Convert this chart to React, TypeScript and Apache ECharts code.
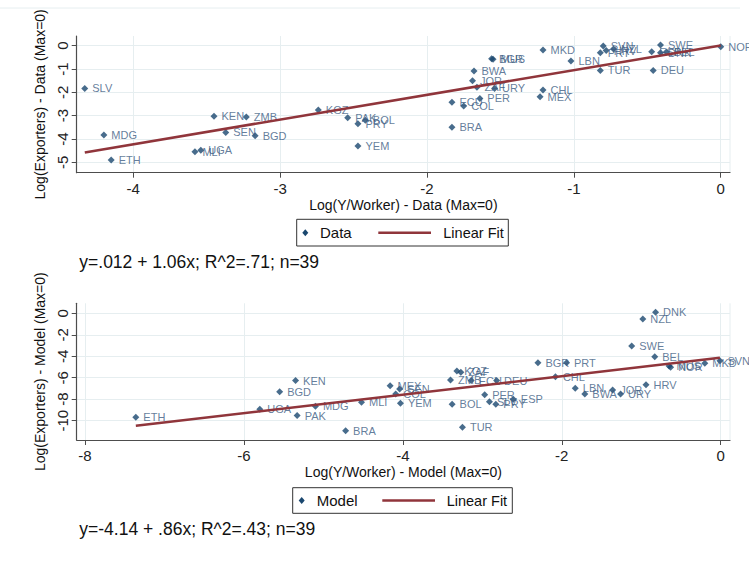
import React, { useEffect, useRef } from "react";
import * as echarts from "echarts";

// Country codes and log values, top panel (data)
const dataCodes = [
  "SLV", "MDG", "ETH", "KEN", "ZMB", "SEN", "BGD", "MLI", "UGA", "KGZ",
  "PAK", "PRY", "BOL", "YEM", "BRA", "ECU", "COL", "PER", "ZAF", "URY",
  "JOR", "BWA", "BGR", "MUS", "MKD", "LBN", "CHL", "MEX", "TUR", "SVN",
  "PRT", "HRV", "NZL", "SWE", "ESP", "DNK", "BEL", "DEU", "NOR",
];
const dataLogYW = [
  -4.33, -4.2, -4.15, -3.45, -3.23, -3.37, -3.17, -3.58, -3.54, -2.74,
  -2.54, -2.47, -2.42, -2.47, -1.83, -1.83, -1.75, -1.64, -1.66, -1.54,
  -1.69, -1.68, -1.56, -1.55, -1.21, -1.02, -1.21, -1.23, -0.82, -0.8,
  -0.82, -0.78, -0.73, -0.41, -0.47, -0.41, -0.37, -0.46, 0,
];
const dataLogExp = [
  -1.83, -3.83, -4.9, -3.02, -3.06, -3.72, -3.86, -4.55, -4.48, -2.76,
  -3.09, -3.35, -3.2, -4.3, -3.5, -2.42, -2.59, -2.26, -1.78, -1.83,
  -1.5, -1.09, -0.56, -0.58, -0.18, -0.66, -1.9, -2.19, -1.06, -0.01,
  -0.3, -0.21, -0.14, 0.03, -0.26, -0.3, -0.27, -1.06, -0.04,
];

// Bottom panel (model)
const modelCodes = [
  "ETH", "UGA", "BGD", "KEN", "PAK", "MDG", "BRA", "MLI", "MEX", "SEN",
  "COL", "YEM", "BOL", "TUR", "KGZ", "ZAF", "ZMB", "ECU", "DEU", "PER",
  "SLV", "PRY", "ESP", "BGR", "PRT", "CHL", "LBN", "BWA", "JOR", "URY",
  "HRV", "SWE", "NZL", "DNK", "BEL", "NOR", "MUS", "MKD", "SVN",
];
const modelLogYW = [
  -7.36, -5.8, -5.55, -5.35, -5.33, -5.1, -4.72, -4.52, -4.16, -4.04,
  -4.09, -4.03, -3.38, -3.25, -3.32, -3.27, -3.4, -3.14, -2.82, -2.97,
  -2.91, -2.83, -2.61, -2.3, -1.94, -2.08, -1.83, -1.71, -1.36, -1.26,
  -0.94, -1.12, -0.98, -0.82, -0.83, -0.63, -0.65, -0.2, -0.01,
];
const modelLogExp = [
  -9.68, -8.94, -7.3, -6.27, -9.53, -8.65, -10.93, -8.29, -6.74, -7.05,
  -7.51, -8.38, -8.47, -10.61, -5.37, -5.5, -6.21, -6.27, -6.27, -7.58,
  -8.23, -8.47, -8.01, -4.6, -4.6, -5.9, -6.98, -7.51, -7.14, -7.51,
  -6.65, -3.04, -0.53, 0.09, -4.04, -5.03, -4.9, -4.66, -4.41,
];

// Fitted lines as reported under each panel
const dataFit = { intercept: 0.012, slope: 1.06 };
const modelFit = { intercept: -4.14, slope: 0.86 };
const dataFitText = "y=.012 + 1.06x; R^2=.71; n=39";
const modelFitText = "y=-4.14 + .86x; R^2=.43; n=39";

// Tick values
const dataXTicks = [-4, -3, -2, -1, 0];
const dataYTicks = [-5, -4, -3, -2, -1, 0];
const modelXTicks = [-8, -6, -4, -2, 0];
const modelYTicks = [-10, -8, -6, -4, -2, 0];

const FONT = "Liberation Sans, Arial, sans-serif";
const NAVY = "#1a476f";
const LABEL = "#3b5b82";
const MAROON = "#90353b";
const AXIS = "#4d4d4d";
const GRID = "#e6eef0";

function points(codes: string[], xs: number[], ys: number[]) {
  return codes.map((c, i) => ({ name: c, value: [xs[i], ys[i]] }));
}

function fitLine(xs: number[], fit: { intercept: number; slope: number }) {
  const lo = Math.min(...xs);
  const hi = Math.max(...xs);
  return [
    [lo, fit.intercept + fit.slope * lo],
    [hi, fit.intercept + fit.slope * hi],
  ];
}

function xAxis(gridIndex: number, min: number, max: number, ticks: number[], name: string) {
  return {
    type: "value",
    gridIndex,
    min,
    max,
    name,
    nameLocation: "middle",
    nameGap: 25,
    nameTextStyle: { fontFamily: FONT, fontSize: 14, color: "#111" },
    axisLine: { show: true, onZero: false, lineStyle: { color: AXIS, width: 1.2 } },
    axisTick: { show: true, length: 5, customValues: ticks, lineStyle: { color: AXIS } },
    axisLabel: { customValues: ticks, fontFamily: FONT, fontSize: 15, color: "#222", margin: 8 },
    splitLine: { show: true, lineStyle: { color: GRID, width: 1 } },
  };
}

function yAxis(gridIndex: number, min: number, max: number, ticks: number[], name: string) {
  return {
    type: "value",
    gridIndex,
    min,
    max,
    name,
    nameLocation: "middle",
    nameRotate: 90,
    nameGap: 28,
    nameTextStyle: { fontFamily: FONT, fontSize: 14, color: "#111" },
    axisLine: { show: true, onZero: false, lineStyle: { color: AXIS, width: 1.2 } },
    axisTick: { show: true, length: 5, customValues: ticks, lineStyle: { color: AXIS } },
    axisLabel: { customValues: ticks, rotate: 90, fontFamily: FONT, fontSize: 15, color: "#222", margin: 7 },
    splitLine: { show: true, lineStyle: { color: GRID, width: 1 } },
  };
}

function scatter(name: string, idx: number, data: any[]) {
  return {
    name,
    type: "scatter",
    xAxisIndex: idx,
    yAxisIndex: idx,
    symbol: "diamond",
    symbolSize: 7,
    itemStyle: { color: NAVY },
    data,
    z: 3,
    label: {
      show: true,
      position: "right",
      distance: 4,
      formatter: (p: any) => p.name,
      fontFamily: FONT,
      fontSize: 11,
      color: LABEL,
    },
  };
}

function fitSeries(idx: number, data: number[][]) {
  return {
    name: "Linear Fit",
    type: "line",
    xAxisIndex: idx,
    yAxisIndex: idx,
    data,
    symbol: "none",
    lineStyle: { color: MAROON, width: 2.5 },
    z: 4,
  };
}

function legendBox(x0: number, y0: number, x1: number, y1: number, dot: number, txtX: number, lx0: number, lx1: number, fitX: number, label: string) {
  const cy = (y0 + y1) / 2;
  return [
    { type: "rect", shape: { x: x0, y: y0, width: x1 - x0, height: y1 - y0 }, style: { fill: "#fff", stroke: "#333", lineWidth: 1 } },
    { type: "polygon", shape: { points: [[dot, cy - 3.5], [dot + 3, cy], [dot, cy + 3.5], [dot - 3, cy]] }, style: { fill: NAVY } },
    { type: "text", x: txtX, y: cy, style: { text: label, fontFamily: FONT, fontSize: 15, fill: "#111", verticalAlign: "middle" } },
    { type: "line", shape: { x1: lx0, y1: cy, x2: lx1, y2: cy }, style: { stroke: MAROON, lineWidth: 2.5 } },
    { type: "text", x: fitX, y: cy, style: { text: "Linear Fit", fontFamily: FONT, fontSize: 14.5, fill: "#111", verticalAlign: "middle" } },
  ];
}

export default function App() {
  const ref = useRef<HTMLDivElement>(null);

  useEffect(() => {
    if (!ref.current) return;
    const chart = echarts.init(ref.current, null, { renderer: "svg" });
    chart.setOption({
      animation: false,
      backgroundColor: "#fff",
      grid: [
        { left: 76.7, top: 36, width: 653.3, height: 136.7 },
        { left: 76.7, top: 303.3, width: 653.3, height: 136.7 },
      ],
      xAxis: [
        xAxis(0, -4.385, 0.063, dataXTicks, "Log(Y/Worker) - Data (Max=0)"),
        xAxis(1, -8.104, 0.117, modelXTicks, "Log(Y/Worker) - Model (Max=0)"),
      ],
      yAxis: [
        yAxis(0, -5.446, 0.416, dataYTicks, "Log(Exporters) - Data (Max=0)"),
        yAxis(1, -11.8, 0.93, modelYTicks, "Log(Exporters) - Model (Max=0)"),
      ],
      series: [
        scatter("Data", 0, points(dataCodes, dataLogYW, dataLogExp)),
        fitSeries(0, fitLine(dataLogYW, dataFit)),
        scatter("Model", 1, points(modelCodes, modelLogYW, modelLogExp)),
        fitSeries(1, fitLine(modelLogYW, modelFit)),
      ],
      graphic: [
        { type: "line", shape: { x1: 0, y1: 8, x2: 740, y2: 8 }, style: { stroke: GRID, lineWidth: 1 } },
        { type: "line", shape: { x1: 730, y1: 36, x2: 730, y2: 172.7 }, style: { stroke: GRID, lineWidth: 1 } },
        { type: "line", shape: { x1: 730, y1: 303.3, x2: 730, y2: 440 }, style: { stroke: GRID, lineWidth: 1 } },
        ...legendBox(296.7, 219.3, 508.3, 246, 305.3, 320, 378.3, 431, 443.3, "Data"),
        ...legendBox(292.7, 487.7, 512.3, 513.3, 301.7, 316.7, 382.3, 435, 446.7, "Model"),
        { type: "text", x: 79.3, y: 261.7, style: { text: dataFitText, fontFamily: FONT, fontSize: 17.5, fill: "#111", verticalAlign: "middle" } },
        { type: "text", x: 79.3, y: 529.3, style: { text: modelFitText, fontFamily: FONT, fontSize: 17.5, fill: "#111", verticalAlign: "middle" } },
      ],
    });
    return () => chart.dispose();
  }, []);

  return (
    <div
      ref={ref}
      style={{ position: "fixed", left: 0, top: 0, width: 749, height: 563, background: "#fff" }}
    />
  );
}
